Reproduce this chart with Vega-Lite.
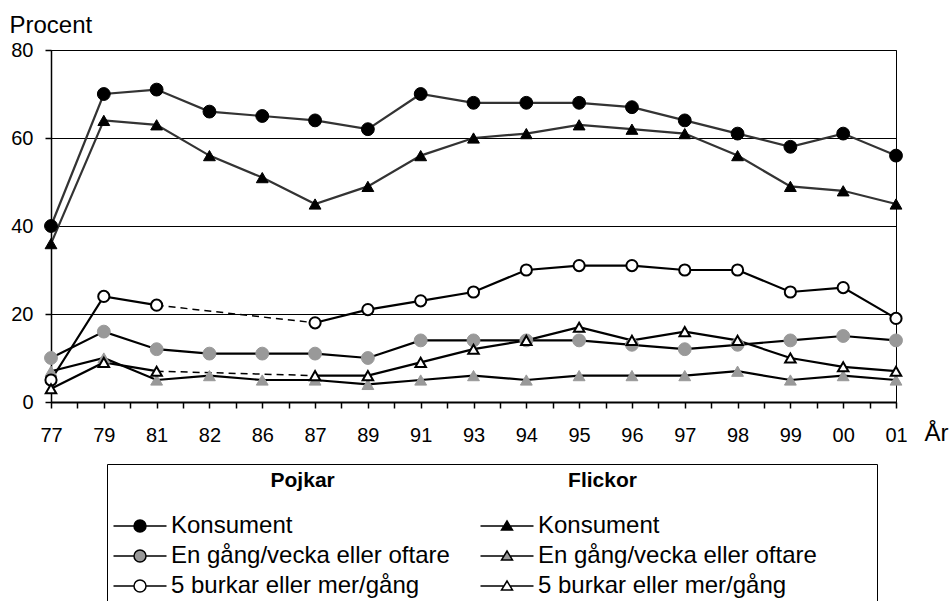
{
  "$schema": "https://vega.github.io/schema/vega-lite/v6.json",
  "width": 845,
  "height": 352,
  "autosize": "none",
  "padding": {"left": 51, "top": 50, "right": 55, "bottom": 199},
  "background": "white",
  "config": {
    "font": "Liberation Sans",
    "view": {"stroke": "black", "strokeWidth": 1},
    "axis": {"labelFont": "Liberation Sans", "titleFont": "Liberation Sans", "labelColor": "black", "titleColor": "black", "domainColor": "black", "tickColor": "black", "labelFontSize": 20, "titleFontSize": 24, "titleFontWeight": "normal"}
  },
  "data": {"values": [
    {"y":"77","s":"Pojkar|Konsument","v":40},{"y":"79","s":"Pojkar|Konsument","v":70},{"y":"81","s":"Pojkar|Konsument","v":71},{"y":"82","s":"Pojkar|Konsument","v":66},{"y":"86","s":"Pojkar|Konsument","v":65},{"y":"87","s":"Pojkar|Konsument","v":64},{"y":"89","s":"Pojkar|Konsument","v":62},{"y":"91","s":"Pojkar|Konsument","v":70},{"y":"93","s":"Pojkar|Konsument","v":68},{"y":"94","s":"Pojkar|Konsument","v":68},{"y":"95","s":"Pojkar|Konsument","v":68},{"y":"96","s":"Pojkar|Konsument","v":67},{"y":"97","s":"Pojkar|Konsument","v":64},{"y":"98","s":"Pojkar|Konsument","v":61},{"y":"99","s":"Pojkar|Konsument","v":58},{"y":"00","s":"Pojkar|Konsument","v":61},{"y":"01","s":"Pojkar|Konsument","v":56},
    {"y":"77","s":"Flickor|Konsument","v":36},{"y":"79","s":"Flickor|Konsument","v":64},{"y":"81","s":"Flickor|Konsument","v":63},{"y":"82","s":"Flickor|Konsument","v":56},{"y":"86","s":"Flickor|Konsument","v":51},{"y":"87","s":"Flickor|Konsument","v":45},{"y":"89","s":"Flickor|Konsument","v":49},{"y":"91","s":"Flickor|Konsument","v":56},{"y":"93","s":"Flickor|Konsument","v":60},{"y":"94","s":"Flickor|Konsument","v":61},{"y":"95","s":"Flickor|Konsument","v":63},{"y":"96","s":"Flickor|Konsument","v":62},{"y":"97","s":"Flickor|Konsument","v":61},{"y":"98","s":"Flickor|Konsument","v":56},{"y":"99","s":"Flickor|Konsument","v":49},{"y":"00","s":"Flickor|Konsument","v":48},{"y":"01","s":"Flickor|Konsument","v":45},
    {"y":"77","s":"Pojkar|En gång/vecka eller oftare","v":10},{"y":"79","s":"Pojkar|En gång/vecka eller oftare","v":16},{"y":"81","s":"Pojkar|En gång/vecka eller oftare","v":12},{"y":"82","s":"Pojkar|En gång/vecka eller oftare","v":11},{"y":"86","s":"Pojkar|En gång/vecka eller oftare","v":11},{"y":"87","s":"Pojkar|En gång/vecka eller oftare","v":11},{"y":"89","s":"Pojkar|En gång/vecka eller oftare","v":10},{"y":"91","s":"Pojkar|En gång/vecka eller oftare","v":14},{"y":"93","s":"Pojkar|En gång/vecka eller oftare","v":14},{"y":"94","s":"Pojkar|En gång/vecka eller oftare","v":14},{"y":"95","s":"Pojkar|En gång/vecka eller oftare","v":14},{"y":"96","s":"Pojkar|En gång/vecka eller oftare","v":13},{"y":"97","s":"Pojkar|En gång/vecka eller oftare","v":12},{"y":"98","s":"Pojkar|En gång/vecka eller oftare","v":13},{"y":"99","s":"Pojkar|En gång/vecka eller oftare","v":14},{"y":"00","s":"Pojkar|En gång/vecka eller oftare","v":15},{"y":"01","s":"Pojkar|En gång/vecka eller oftare","v":14},
    {"y":"77","s":"Flickor|En gång/vecka eller oftare","v":7},{"y":"79","s":"Flickor|En gång/vecka eller oftare","v":10},{"y":"81","s":"Flickor|En gång/vecka eller oftare","v":5},{"y":"82","s":"Flickor|En gång/vecka eller oftare","v":6},{"y":"86","s":"Flickor|En gång/vecka eller oftare","v":5},{"y":"87","s":"Flickor|En gång/vecka eller oftare","v":5},{"y":"89","s":"Flickor|En gång/vecka eller oftare","v":4},{"y":"91","s":"Flickor|En gång/vecka eller oftare","v":5},{"y":"93","s":"Flickor|En gång/vecka eller oftare","v":6},{"y":"94","s":"Flickor|En gång/vecka eller oftare","v":5},{"y":"95","s":"Flickor|En gång/vecka eller oftare","v":6},{"y":"96","s":"Flickor|En gång/vecka eller oftare","v":6},{"y":"97","s":"Flickor|En gång/vecka eller oftare","v":6},{"y":"98","s":"Flickor|En gång/vecka eller oftare","v":7},{"y":"99","s":"Flickor|En gång/vecka eller oftare","v":5},{"y":"00","s":"Flickor|En gång/vecka eller oftare","v":6},{"y":"01","s":"Flickor|En gång/vecka eller oftare","v":5},
    {"y":"77","s":"Pojkar|5 burkar eller mer/gång","v":5},{"y":"79","s":"Pojkar|5 burkar eller mer/gång","v":24},{"y":"81","s":"Pojkar|5 burkar eller mer/gång","v":22},{"y":"82","s":"Pojkar|5 burkar eller mer/gång","v":null},{"y":"86","s":"Pojkar|5 burkar eller mer/gång","v":null},{"y":"87","s":"Pojkar|5 burkar eller mer/gång","v":18},{"y":"89","s":"Pojkar|5 burkar eller mer/gång","v":21},{"y":"91","s":"Pojkar|5 burkar eller mer/gång","v":23},{"y":"93","s":"Pojkar|5 burkar eller mer/gång","v":25},{"y":"94","s":"Pojkar|5 burkar eller mer/gång","v":30},{"y":"95","s":"Pojkar|5 burkar eller mer/gång","v":31},{"y":"96","s":"Pojkar|5 burkar eller mer/gång","v":31},{"y":"97","s":"Pojkar|5 burkar eller mer/gång","v":30},{"y":"98","s":"Pojkar|5 burkar eller mer/gång","v":30},{"y":"99","s":"Pojkar|5 burkar eller mer/gång","v":25},{"y":"00","s":"Pojkar|5 burkar eller mer/gång","v":26},{"y":"01","s":"Pojkar|5 burkar eller mer/gång","v":19},
    {"y":"77","s":"Flickor|5 burkar eller mer/gång","v":3},{"y":"79","s":"Flickor|5 burkar eller mer/gång","v":9},{"y":"81","s":"Flickor|5 burkar eller mer/gång","v":7},{"y":"82","s":"Flickor|5 burkar eller mer/gång","v":null},{"y":"86","s":"Flickor|5 burkar eller mer/gång","v":null},{"y":"87","s":"Flickor|5 burkar eller mer/gång","v":6},{"y":"89","s":"Flickor|5 burkar eller mer/gång","v":6},{"y":"91","s":"Flickor|5 burkar eller mer/gång","v":9},{"y":"93","s":"Flickor|5 burkar eller mer/gång","v":12},{"y":"94","s":"Flickor|5 burkar eller mer/gång","v":14},{"y":"95","s":"Flickor|5 burkar eller mer/gång","v":17},{"y":"96","s":"Flickor|5 burkar eller mer/gång","v":14},{"y":"97","s":"Flickor|5 burkar eller mer/gång","v":16},{"y":"98","s":"Flickor|5 burkar eller mer/gång","v":14},{"y":"99","s":"Flickor|5 burkar eller mer/gång","v":10},{"y":"00","s":"Flickor|5 burkar eller mer/gång","v":8},{"y":"01","s":"Flickor|5 burkar eller mer/gång","v":7}
  ]},
  "encoding": {
    "x": {
      "field": "y", "type": "ordinal",
      "scale": {"type": "point", "padding": 0, "domain": ["77","77_","79","79_","81","81_","82","82_","86","86_","87","87_","89","89_","91","91_","93","93_","94","94_","95","95_","96","96_","97","97_","98","98_","99","99_","00","00_","01"]},
      "axis": {"title": "År", "titleX": 873, "titleY": 38, "titleAlign": "left", "titleBaseline": "alphabetic", "titleAnchor": "start", "labelAngle": 0, "labelOverlap": false, "labelExpr": "indexof(datum.label, '_') >= 0 ? '' : datum.label", "tickSize": 6, "tickWidth": 1.5, "domainWidth": 2, "labelPadding": 17, "grid": false}
    },
    "y": {
      "field": "v", "type": "quantitative",
      "scale": {"domain": [0, 80], "nice": false},
      "axis": {"title": "Procent", "values": [0, 20, 40, 60, 80], "grid": true, "gridColor": "black", "gridWidth": 1, "tickSize": 6, "tickWidth": 1.5, "domainWidth": 1.5, "labelPadding": 12, "titleAngle": 0, "titleAlign": "left", "titleBaseline": "alphabetic", "titleAnchor": "start", "titleX": -42, "titleY": -18}
    }
  },
  "layer": [
    {
      "mark": {"type": "line", "strokeWidth": 2.2},
      "encoding": {
        "detail": {"field": "s"},
        "order": {"value": null},
        "stroke": {"condition": {"test": "indexof(datum.s, 'Konsument') >= 0", "value": "#333333"}, "value": "black"}
      }
    },
    {
      "transform": [{"filter": {"and": [{"field": "y", "oneOf": ["81", "87"]}, {"field": "s", "oneOf": ["Pojkar|5 burkar eller mer/gång", "Flickor|5 burkar eller mer/gång"]}]}}],
      "mark": {"type": "line", "strokeWidth": 1.5, "strokeDash": [7, 5], "color": "black"},
      "encoding": {"detail": {"field": "s"}, "order": {"value": null}}
    },
    {
      "transform": [{"filter": "isValid(datum.v) && datum.v < 0"}],
      "mark": {"type": "point", "filled": true, "opacity": 1, "stroke": "black", "strokeWidth": 1.5},
      "encoding": {
        "fill": {
          "field": "s", "type": "nominal",
          "scale": {"domain": ["Pojkar|Konsument", "Pojkar|En gång/vecka eller oftare", "Pojkar|5 burkar eller mer/gång", "Flickor|Konsument", "Flickor|En gång/vecka eller oftare", "Flickor|5 burkar eller mer/gång"], "range": ["black", "#999999", "white", "black", "#999999", "white"]},
          "legend": {
            "title": "\u200b\u00a0\u00a0\u00a0\u00a0\u00a0\u00a0\u00a0\u00a0\u00a0\u00a0\u00a0\u00a0\u00a0\u00a0\u00a0\u00a0\u00a0\u00a0\u00a0\u00a0\u00a0\u00a0\u00a0\u00a0\u00a0\u00a0\u00a0Pojkar\u00a0\u00a0\u00a0\u00a0\u00a0\u00a0\u00a0\u00a0\u00a0\u00a0\u00a0\u00a0\u00a0\u00a0\u00a0\u00a0\u00a0\u00a0\u00a0\u00a0\u00a0\u00a0\u00a0\u00a0\u00a0\u00a0\u00a0\u00a0\u00a0\u00a0\u00a0\u00a0\u00a0\u00a0\u00a0\u00a0\u00a0\u00a0\u00a0\u00a0Flickor\u00a0\u00a0\u00a0\u00a0\u00a0\u00a0\u00a0\u00a0\u00a0\u00a0\u00a0\u00a0\u00a0\u00a0\u00a0\u00a0\u00a0\u00a0\u00a0\u00a0\u00a0\u00a0\u00a0\u00a0\u00a0\u00a0\u00a0\u00a0\u00a0\u00a0\u00a0\u00a0\u00a0\u00a0\u00a0\u00a0\u00a0\u00a0\u00a0\u00a0\u200b",
            "orient": "none", "legendX": 56, "legendY": 414,
            "columns": 2, "columnPadding": 27, "rowPadding": 6,
            "padding": 6, "strokeColor": "black", "fillColor": "white",
            "titleFont": "Liberation Sans", "titleFontSize": 21, "titleFontWeight": "bold", "titleColor": "black", "titleLimit": 3000, "titlePadding": 23, "titleAnchor": "start", "titleAlign": "left",
            "labelFont": "Liberation Sans", "labelFontSize": 24, "labelColor": "black", "labelLimit": 600, "labelOffset": 19,
            "symbolSize": 100, "symbolOffset": 15, "symbolOpacity": 1, "symbolStrokeColor": "black", "symbolStrokeWidth": 1.5,
            "labelExpr": "split(datum.label, '|')[1]"
          }
        },
        "shape": {
          "field": "s", "type": "nominal",
          "scale": {"domain": ["Pojkar|Konsument", "Pojkar|En gång/vecka eller oftare", "Pojkar|5 burkar eller mer/gång", "Flickor|Konsument", "Flickor|En gång/vecka eller oftare", "Flickor|5 burkar eller mer/gång"], "range": [
            "M-5.3,0H-1.2M1.2,0H5.3M-1.2,0A1.2,1.2 0 1,0 1.2,0A1.2,1.2 0 1,0 -1.2,0",
            "M-5.3,0H-1.2M1.2,0H5.3M-1.2,0A1.2,1.2 0 1,0 1.2,0A1.2,1.2 0 1,0 -1.2,0",
            "M-5.3,0H-1.2M1.2,0H5.3M-1.2,0A1.2,1.2 0 1,0 1.2,0A1.2,1.2 0 1,0 -1.2,0",
            "M-5.3,0H-0.61M0.61,0H5.3M0,-1L1.1,0.8L-1.1,0.8Z",
            "M-5.3,0H-0.61M0.61,0H5.3M0,-1L1.1,0.8L-1.1,0.8Z",
            "M-5.3,0H-0.61M0.61,0H5.3M0,-1L1.1,0.8L-1.1,0.8Z"
          ]}
        }
      }
    },
    {
      "transform": [{"filter": "isValid(datum.v)"}],
      "mark": {"type": "point", "filled": true, "opacity": 1},
      "encoding": {
        "fill": {"condition": [
          {"test": "indexof(datum.s, 'Konsument') >= 0", "value": "black"},
          {"test": "indexof(datum.s, 'En gång') >= 0", "value": "#999999"}
        ], "value": "white"},
        "shape": {"condition": {"test": "indexof(datum.s, 'Flickor') === 0", "value": "triangle-up"}, "value": "circle"},
        "stroke": {"condition": {"test": "indexof(datum.s, 'En gång') >= 0", "value": "#999999"}, "value": "black"},
        "strokeWidth": {"condition": {"test": "indexof(datum.s, '5 burkar') >= 0", "value": 2}, "value": 1},
        "size": {"condition": [
          {"test": "indexof(datum.s, 'Pojkar|5 burkar') >= 0", "value": 125},
          {"test": "indexof(datum.s, 'Flickor|5 burkar') >= 0", "value": 110},
          {"test": "indexof(datum.s, 'Flickor') >= 0", "value": 140}
        ], "value": 165}
      }
    }
  ]
}
